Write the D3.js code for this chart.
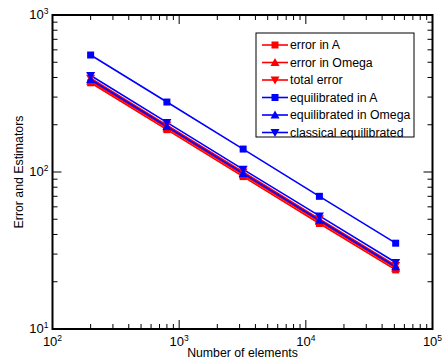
<!DOCTYPE html>
<html><head><meta charset="utf-8">
<script src="https://cdn.jsdelivr.net/npm/d3@7"></script>
<style>body{margin:0;background:#fff}svg{display:block;font-family:"Liberation Sans",Arial,sans-serif}</style>
</head><body><svg id="c" width="443" height="360"></svg>
<script>
const elements = [200, 800, 3200, 12800, 51200];
const errorA = [370, 186, 93.5, 47, 23.8];
const errorOmega = [380, 191, 96, 48.3, 24.4];
const totalError = [396, 199, 100, 50.3, 25.4];
const equilA = [556, 279, 140, 70, 35.2];
const equilOmega = [388, 195, 98, 49.3, 24.9];
const classicalEquil = [412, 207, 104, 52.5, 26.5];
const seriesNames = ["error in A","error in Omega","total error","equilibrated in A","equilibrated in Omega","classical equilibrated"];
const xTickExps = [2,3,4,5];
const yTickExps = [1,2,3];

const series = [
  {name: seriesNames[0], vals: errorA, color: "#ff0000", sym: "square"},
  {name: seriesNames[1], vals: errorOmega, color: "#ff0000", sym: "up"},
  {name: seriesNames[2], vals: totalError, color: "#ff0000", sym: "down"},
  {name: seriesNames[3], vals: equilA, color: "#0000ff", sym: "square"},
  {name: seriesNames[4], vals: equilOmega, color: "#0000ff", sym: "up"},
  {name: seriesNames[5], vals: classicalEquil, color: "#0000ff", sym: "down"}
];

const svg = d3.select("#c");
const L = 52.5, R = 432.5, T = 15, B = 329;
const x = d3.scaleLog().domain([1e2, 1e5]).range([L, R]);
const y = d3.scaleLog().domain([1e1, 1e3]).range([B, T]);

function marker(g, sym, cx, cy, color) {
  if (sym === "square") {
    g.append("rect").attr("x", cx-3.5).attr("y", cy-3.5).attr("width", 7).attr("height", 7).attr("fill", color);
  } else if (sym === "up") {
    g.append("path").attr("d", `M${cx},${cy-4.5}L${cx+4.5},${cy+3.5}L${cx-4.5},${cy+3.5}Z`).attr("fill", color);
  } else {
    g.append("path").attr("d", `M${cx},${cy+4.5}L${cx+4.5},${cy-3.5}L${cx-4.5},${cy-3.5}Z`).attr("fill", color);
  }
}

const plot = svg.append("g");
series.forEach(s => {
  const line = d3.line().x((d,i) => x(elements[i])).y(d => y(d));
  plot.append("path").datum(s.vals).attr("d", line).attr("fill","none").attr("stroke", s.color).attr("stroke-width", 1.6);
});
series.forEach(s => {
  s.vals.forEach((v,i) => marker(plot, s.sym, x(elements[i]), y(v), s.color));
});

svg.append("rect").attr("x", L).attr("y", T).attr("width", R-L).attr("height", B-T)
  .attr("fill","none").attr("stroke","#000").attr("stroke-width",2);

const tg = svg.append("g").attr("stroke","#000").attr("stroke-width",1);
x.ticks().forEach(t => {
  const major = Math.abs(Math.log10(t) - Math.round(Math.log10(t))) < 1e-9;
  const len = major ? 9 : 5;
  const px = x(t);
  if (px <= L+1 || px >= R-1) return;
  tg.append("line").attr("x1",px).attr("x2",px).attr("y1",B).attr("y2",B-len);
  tg.append("line").attr("x1",px).attr("x2",px).attr("y1",T).attr("y2",T+len);
});
y.ticks().forEach(t => {
  const major = Math.abs(Math.log10(t) - Math.round(Math.log10(t))) < 1e-9;
  const len = major ? 9 : 5;
  const py = y(t);
  if (py <= T+1 || py >= B-1) return;
  tg.append("line").attr("y1",py).attr("y2",py).attr("x1",L).attr("x2",L+len);
  tg.append("line").attr("y1",py).attr("y2",py).attr("x1",R).attr("x2",R-len);
});

xTickExps.forEach(e => {
  const t = svg.append("text").attr("x", x(Math.pow(10,e))).attr("y", B+17).attr("text-anchor","middle").attr("font-size",13);
  t.append("tspan").text("10");
  t.append("tspan").attr("dy",-5).attr("font-size",8.5).text(e);
});
yTickExps.forEach(e => {
  const t = svg.append("text").attr("x", L-4).attr("y", y(Math.pow(10,e))+4).attr("text-anchor","end").attr("font-size",13);
  t.append("tspan").text("10");
  t.append("tspan").attr("dy",-5).attr("font-size",8.5).text(e);
});

svg.append("text").attr("x", (L+R)/2).attr("y", 357).attr("text-anchor","middle").attr("font-size",12.3).text("Number of elements");
svg.append("text").attr("transform", `translate(23,${(T+B)/2}) rotate(-90)`).attr("text-anchor","middle").attr("font-size",12.3).text("Error and Estimators");

const lg = svg.append("g");
lg.append("rect").attr("x",256).attr("y",33).attr("width",158).attr("height",104).attr("fill","#fff").attr("stroke","#000").attr("stroke-width",1);
series.forEach((s,i) => {
  const yy = 45 + i*17.5;
  lg.append("line").attr("x1",262).attr("x2",288).attr("y1",yy).attr("y2",yy).attr("stroke",s.color).attr("stroke-width",1.6);
  marker(lg, s.sym, 275, yy, s.color);
  lg.append("text").attr("x",290).attr("y",yy+4).attr("font-size",12.3).text(s.name);
});
</script></body></html>
